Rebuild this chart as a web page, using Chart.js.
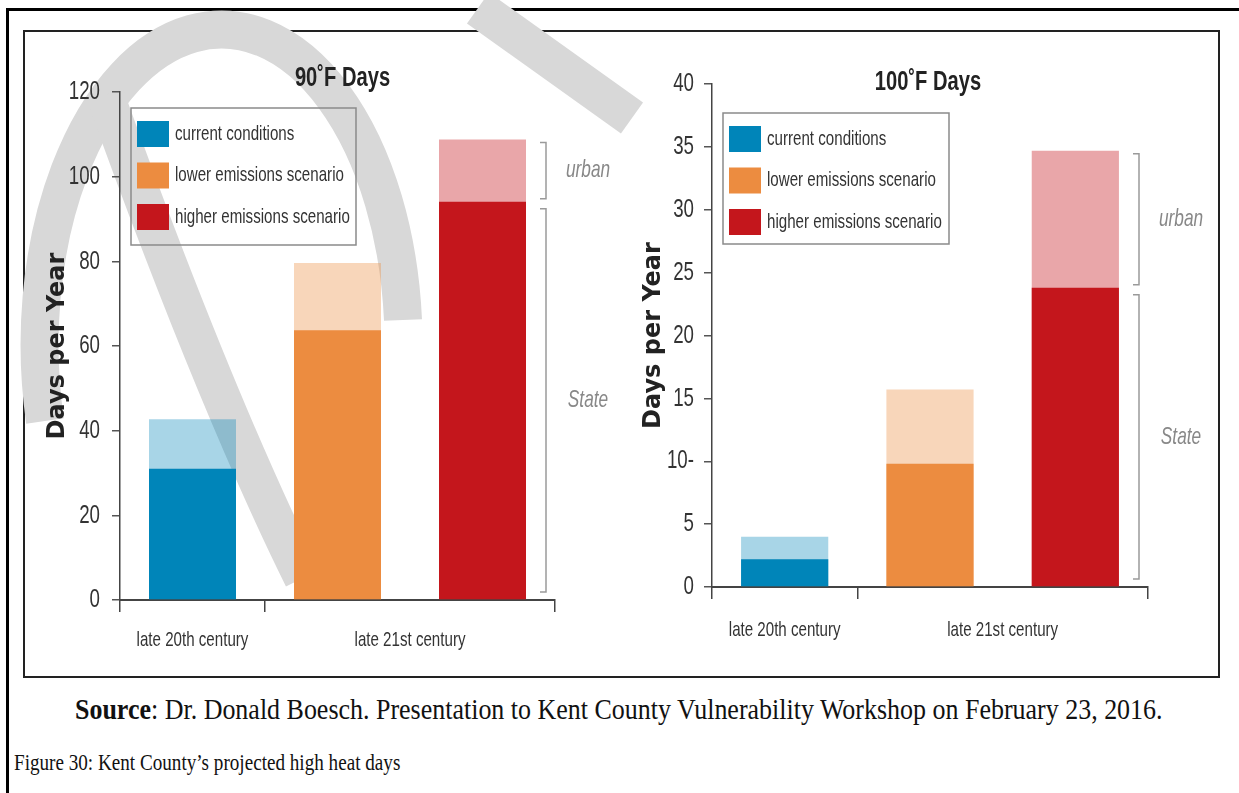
<!DOCTYPE html>
<html>
<head>
<meta charset="utf-8">
<script src="https://cdn.jsdelivr.net/npm/chart.js@4.4.0/dist/chart.umd.min.js"></script>
<style>
  body { margin: 0; background: #fff; width: 1239px; height: 793px; overflow: hidden; position: relative; }
  #frame { position: absolute; left: 6px; top: 8px; width: 1250px; height: 800px; border-left: 3px solid #000; border-top: 3px solid #000; }
  #box { position: absolute; left: 23px; top: 30px; width: 1197px; height: 648px; border: 2px solid #222; box-sizing: border-box; }
  #mark { position: absolute; left: 0; top: 0; }
  .panel { position: absolute; top: 32px; height: 644px; }
  #p90 { left: 24px; width: 596px; }
  #p100 { left: 620px; width: 598px; }
  #source { position: absolute; left: 75px; top: 694px; font: 30px 'Liberation Serif', serif; line-height: 1; white-space: nowrap; color: #111; transform-origin: 0 0; }
  #caption { position: absolute; left: 14px; top: 751px; font: 23px 'Liberation Serif', serif; line-height: 1; white-space: nowrap; color: #111; transform-origin: 0 0; }
</style>
</head>
<body>
<div id="frame"></div>
<div id="box"></div>
<!-- faint "draft" watermark strokes behind the figure -->
<svg id="mark" width="1239" height="793">
  <g fill="none" stroke="#d8d8d8" stroke-width="38">
    <path d="M 45 421 A 182 315 0 1 1 403 320"/>
    <path d="M 105 95 Q 215 400 303 578"/>
    <path d="M 478 8 L 632 118"/>
  </g>
</svg>
<div class="panel" id="p90"><canvas id="chart90" width="596" height="644"></canvas></div>
<div class="panel" id="p100"><canvas id="chart100" width="598" height="644"></canvas></div>
<div id="source"><b>Source</b>: Dr. Donald Boesch. Presentation to Kent County Vulnerability Workshop on February 23, 2016.</div>
<div id="caption">Figure 30: Kent County’s projected high heat days</div>

<script>
// Scenarios (one bar each) and the two period groups on the x axis
const categories = ['current conditions', 'lower emissions scenario', 'higher emissions scenario'];
const groupLabels = ['late 20th century', 'late 21st century'];
const groupMembers = [[0], [1, 2]];
const bracketLabels = ['urban', 'State'];

// 90°F days: state-wide value and total with the urban increment
const days90State = [31, 63.7, 94.1];
const days90Urban = [42.7, 79.6, 108.8];
const ticks90 = ['0', '20', '40', '60', '80', '100', '120'];

// 100°F days
const days100State = [2.2, 9.8, 23.8];
const days100Urban = [4.0, 15.7, 34.7];
const ticks100 = ['0', '5', '10-', '15', '20', '25', '30', '35', '40'];

const darkColors = ['#0085b9', '#ec8c40', '#c4161c'];
const lightColors = ['rgba(0,133,185,0.34)', 'rgba(236,140,64,0.36)', 'rgba(196,22,28,0.38)'];

const SANS = "'Liberation Sans', Arial, sans-serif";
const SQUEEZE = 0.72;   // the original uses a condensed face

function condensedText(ctx, text, x, y, align) {
    ctx.save();
    ctx.translate(x, y);
    ctx.scale(SQUEEZE, 1);
    ctx.textAlign = align;
    ctx.fillText(text, 0, 0);
    ctx.restore();
}

// Draws tick labels, title, legend box, period labels and urban/State brackets
const decorPlugin = {
    id: 'decor',
    afterDraw(chart, args, opts) {
        const { ctx, chartArea: a, scales: { x, y } } = chart;
        ctx.save();
        ctx.textBaseline = 'middle';

        // y tick labels
        ctx.fillStyle = '#333';
        ctx.font = '26px ' + SANS;
        y.ticks.forEach((t, i) => {
            condensedText(ctx, opts.tickLabels[i], a.left - opts.tickGap, y.getPixelForValue(t.value), 'right');
        });

        // title
        ctx.fillStyle = '#222';
        ctx.font = 'bold 28px ' + SANS;
        condensedText(ctx, opts.title, (a.left + a.right) / 2 + opts.titleDx, a.top + opts.titleDy, 'center');

        // legend
        const bl = a.left + 11, bt = a.top + opts.legendTop;
        ctx.strokeStyle = '#8a8a8a';
        ctx.lineWidth = 1.5;
        ctx.strokeRect(bl, bt, opts.legendW, opts.legendH);
        ctx.font = '21px ' + SANS;
        categories.forEach((label, i) => {
            const cy = bt + 26 + i * 41.5;
            ctx.fillStyle = darkColors[i];
            ctx.fillRect(bl + 6, cy - 13, 32, 26);
            ctx.fillStyle = '#333';
            condensedText(ctx, label, bl + 44, cy, 'left');
        });

        // period labels under the axis
        ctx.font = '21px ' + SANS;
        groupLabels.forEach((label, g) => {
            const px = groupMembers[g].map(i => x.getPixelForValue(i));
            const cx = (Math.min(...px) + Math.max(...px)) / 2;
            condensedText(ctx, label, cx, a.bottom + opts.labelDy, 'center');
        });

        // brackets for the highest bar
        const st = chart.data.datasets[0].data[2];
        const ur = chart.data.datasets[1].data[2];
        const bx = a.right - 9;
        const spans = [
            [y.getPixelForValue(ur) + 3, y.getPixelForValue(st) - 3],
            [y.getPixelForValue(st) + 7, y.getPixelForValue(0) - 8]
        ];
        ctx.strokeStyle = '#9a9a9a';
        ctx.lineWidth = 1.5;
        ctx.fillStyle = '#888';
        ctx.font = 'italic 24px ' + SANS;
        spans.forEach(([t, b], i) => {
            ctx.beginPath();
            ctx.moveTo(bx - 6, t);
            ctx.lineTo(bx, t);
            ctx.lineTo(bx, b);
            ctx.lineTo(bx - 6, b);
            ctx.stroke();
            condensedText(ctx, bracketLabels[i], bx + 42, (t + b) / 2, 'center');
        });
        ctx.restore();
    }
};

function makeChart(id, state, urban, max, step, layout, decor) {
    return new Chart(document.getElementById(id), {
        type: 'bar',
        data: {
            labels: categories,
            datasets: [
                { label: 'State', data: state, backgroundColor: darkColors, grouped: false },
                { label: 'urban', data: urban, backgroundColor: lightColors, grouped: false }
            ]
        },
        options: {
            responsive: false,
            animation: false,
            categoryPercentage: 1,
            barPercentage: 0.6,
            layout: { padding: layout.padding },
            plugins: {
                legend: { display: false },
                tooltip: { enabled: false },
                title: { display: false },
                decor: decor
            },
            scales: {
                x: {
                    ticks: { display: false },
                    grid: {
                        offset: true,
                        drawOnChartArea: false,
                        tickLength: 12,
                        lineWidth: 1.5,
                        color: ctx => ctx.index === 2 ? 'rgba(0,0,0,0)' : '#444'
                    },
                    border: { display: true, color: '#444', width: 2 },
                    afterFit: s => { s.height = layout.xHeight; }
                },
                y: {
                    min: 0,
                    max: max,
                    ticks: { stepSize: step, display: false },
                    grid: { drawOnChartArea: false, tickLength: 8, lineWidth: 1.5, color: '#555' },
                    border: { display: true, color: '#444', width: 1.5 },
                    title: {
                        display: true,
                        text: 'Days per Year',
                        color: '#222',
                        padding: 0,
                        font: { family: 'DejaVu Sans', weight: 'bold', size: 24 }
                    },
                    afterFit: s => { s.width = layout.yWidth; }
                }
            }
        },
        plugins: [decorPlugin]
    });
}

makeChart('chart90', days90State, days90Urban, 120, 20,
    { padding: { left: 19, top: 60, right: 65, bottom: 0 }, yWidth: 77, xHeight: 76 },
    { tickLabels: ticks90, tickGap: 20, title: '90˚F Days', titleDx: 5, titleDy: -14,
      legendTop: 16, legendW: 225, legendH: 137, labelDy: 40 });

makeChart('chart100', days100State, days100Urban, 40, 5,
    { padding: { left: 19, top: 52, right: 70, bottom: 0 }, yWidth: 73, xHeight: 89 },
    { tickLabels: ticks100, tickGap: 18, title: '100˚F Days', titleDx: -2, titleDy: -2,
      legendTop: 29, legendW: 226, legendH: 131, labelDy: 43 });

// squeeze the serif lines to the widths used in the document
function fitWidth(id, w) {
    const el = document.getElementById(id);
    el.style.transform = 'scaleX(' + (w / el.offsetWidth) + ')';
}
fitWidth('source', 1088);
fitWidth('caption', 386);
</script>
</body>
</html>
